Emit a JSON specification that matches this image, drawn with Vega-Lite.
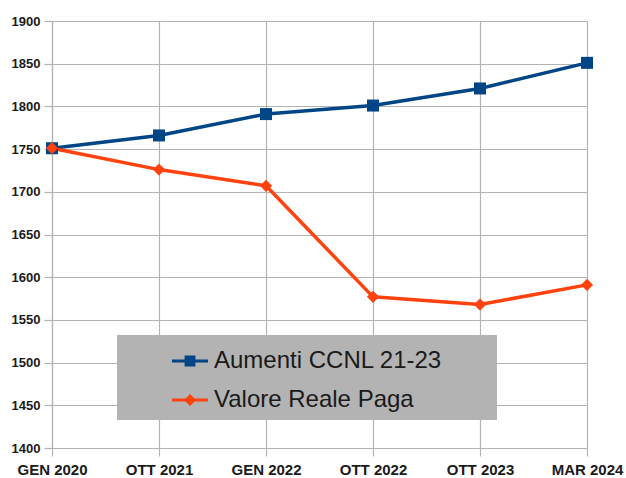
{
  "$schema": "https://vega.github.io/schema/vega-lite/v6.json",
  "autosize": "none",
  "padding": {"left": 52, "top": 21, "right": 39, "bottom": 30},
  "width": 535,
  "height": 427,
  "background": "white",
  "data": {
    "values": [
      {"periodo": "GEN 2020", "serie": "Aumenti CCNL 21-23", "valore": 1751},
      {"periodo": "OTT 2021", "serie": "Aumenti CCNL 21-23", "valore": 1766},
      {"periodo": "GEN 2022", "serie": "Aumenti CCNL 21-23", "valore": 1791},
      {"periodo": "OTT 2022", "serie": "Aumenti CCNL 21-23", "valore": 1801},
      {"periodo": "OTT 2023", "serie": "Aumenti CCNL 21-23", "valore": 1821},
      {"periodo": "MAR 2024", "serie": "Aumenti CCNL 21-23", "valore": 1851},
      {"periodo": "GEN 2020", "serie": "Valore Reale Paga", "valore": 1751},
      {"periodo": "OTT 2021", "serie": "Valore Reale Paga", "valore": 1726},
      {"periodo": "GEN 2022", "serie": "Valore Reale Paga", "valore": 1707},
      {"periodo": "OTT 2022", "serie": "Valore Reale Paga", "valore": 1577},
      {"periodo": "OTT 2023", "serie": "Valore Reale Paga", "valore": 1568},
      {"periodo": "MAR 2024", "serie": "Valore Reale Paga", "valore": 1591}
    ]
  },
  "encoding": {
    "x": {
      "field": "periodo",
      "type": "ordinal",
      "sort": null,
      "scale": {"type": "point", "padding": 0},
      "axis": {
        "title": null,
        "labelAngle": 0,
        "labelFontSize": 15,
        "tickSize": 8,
        "labelPadding": 6,
        "grid": true
      }
    },
    "y": {
      "field": "valore",
      "type": "quantitative",
      "scale": {"domain": [1400, 1900], "nice": false, "zero": false},
      "axis": {
        "title": null,
        "format": "d",
        "values": [1400, 1450, 1500, 1550, 1600, 1650, 1700, 1750, 1800, 1850, 1900],
        "labelFontSize": 13,
        "tickSize": 8,
        "labelPadding": 4,
        "grid": true
      }
    },
    "color": {
      "field": "serie",
      "type": "nominal",
      "scale": {
        "domain": ["Aumenti CCNL 21-23", "Valore Reale Paga"],
        "range": ["#004586", "#ff420e"]
      },
      "legend": {
        "title": null,
        "orient": "none",
        "legendX": 65,
        "legendY": 314,
        "fillColor": "#b3b3b3",
        "padding": 8,
        "rowPadding": 9,
        "symbolSize": 1296,
        "symbolOffset": 47,
        "labelOffset": 6,
        "labelFontSize": 24,
        "labelFont": "Liberation Sans",
        "labelColor": "#1a1a1a",
        "labelLimit": 0,
        "labelExpr": "datum.label + '\u00a0\u00a0\u00a0\u00a0\u00a0\u00a0\u00a0\u200b'",
        "symbolStrokeWidth": 0,
        "symbolOpacity": 1
      }
    }
  },
  "layer": [
    {
      "mark": {"type": "line", "strokeWidth": 3.5, "strokeJoin": "round"}
    },
    {
      "transform": [{"filter": "datum.serie === 'Aumenti CCNL 21-23'"}],
      "mark": {"type": "point", "filled": true, "opacity": 1, "size": 144, "shape": "square"}
    },
    {
      "transform": [{"filter": "datum.serie === 'Valore Reale Paga'"}],
      "mark": {"type": "point", "filled": true, "opacity": 1, "size": 150, "shape": "diamond"}
    },
    {
      "transform": [{"filter": "false"}],
      "mark": {"type": "point", "filled": true, "opacity": 1, "size": 144},
      "encoding": {
        "shape": {
          "field": "serie",
          "type": "nominal",
          "scale": {
            "domain": ["Aumenti CCNL 21-23", "Valore Reale Paga"],
            "range": [
              "M-1,-0.08H-0.3V-0.3H0.3V-0.08H1V0.08H0.3V0.3H-0.3V0.08H-1Z",
              "M-1,-0.08H-0.25L0,-0.33L0.25,-0.08H1V0.08H0.25L0,0.33L-0.25,0.08H-1Z"
            ]
          },
          "legend": null
        }
      }
    }
  ],
  "config": {
    "view": {"stroke": null},
    "axis": {
      "labelFont": "Liberation Sans",
      "labelFontWeight": "bold",
      "labelColor": "#1a1a1a",
      "gridColor": "#b3b3b3",
      "gridWidth": 1.2,
      "domainColor": "#b3b3b3",
      "domainWidth": 1.2,
      "tickColor": "#b3b3b3",
      "tickWidth": 1.2
    }
  }
}
